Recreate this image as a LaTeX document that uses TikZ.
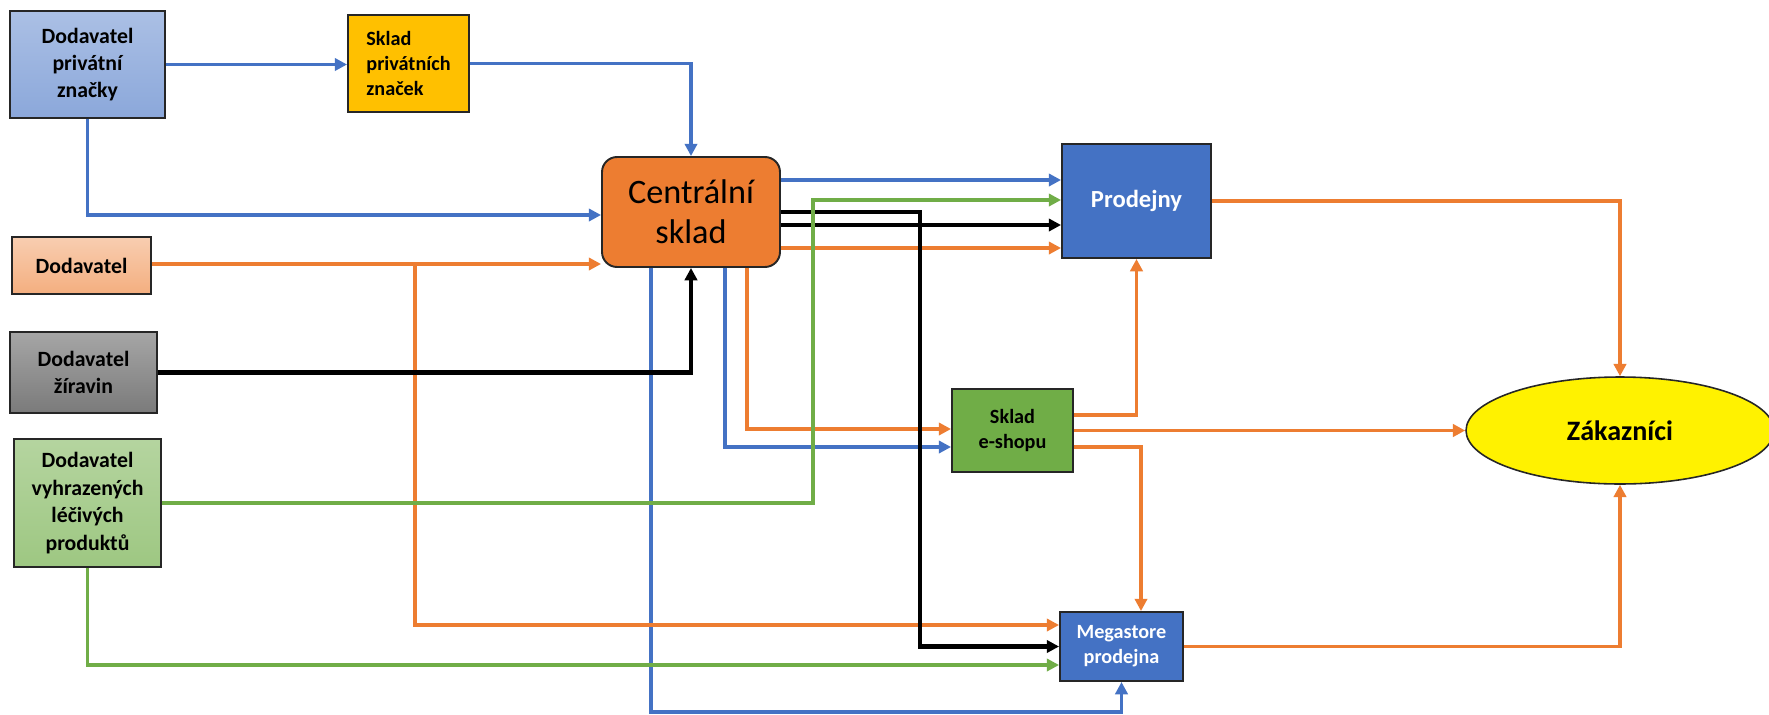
\documentclass[tikz,border=0pt]{standalone}
\usepackage{fontspec}
\setmainfont{Carlito}
\usetikzlibrary{shapes.geometric}
\usetikzlibrary{arrows.meta}
\definecolor{cblue}{HTML}{4472C4}
\definecolor{corange}{HTML}{ED7D31}
\definecolor{cgreen}{HTML}{70AD47}
\definecolor{cgold}{HTML}{FFC000}

\begin{document}
\begin{tikzpicture}[x=0.02cm, y=-0.02cm,
    box/.style={draw=black!85, line width=1.1pt, rectangle, inner sep=0pt, align=center, font=\bfseries\fontsize{12.4}{15.6}\selectfont},
    smallbox/.style={box, font=\bfseries\fontsize{11.5}{14.2}\selectfont},
    flow/.style={line width=2.1pt, -{Triangle[length=7pt,width=7pt]}},
    bflow/.style={flow, draw=cblue},
    oflow/.style={flow, draw=corange},
    gflow/.style={flow, draw=cgreen},
    kflow/.style={flow, draw=black, line width=2.3pt}]
    \useasboundingbox (0,0) rectangle (1769,714);
    \fill[white] (0,0) rectangle (1769,714);

    % suppliers
    \node[box, top color=cblue!45, bottom color=cblue!62, minimum width=3.1cm, minimum height=2.14cm] (dpz) at (87.5,64.5) {Dodavatel\\privátní\\značky};
    \node[smallbox, fill=cgold, align=left, minimum width=2.42cm, minimum height=1.94cm] (spz) at (408.5,63.5) {Sklad\\privátních\\značek};
    \node[box, top color=corange!38, bottom color=corange!62, minimum width=2.78cm, minimum height=1.14cm] (dod) at (81.5,265.5) {Dodavatel};
    \node[box, top color=black!35, bottom color=black!52, minimum width=2.94cm, minimum height=1.62cm] (ziv) at (83.5,372.5) {Dodavatel\\žíravin};
    \node[box, top color=cgreen!52, bottom color=cgreen!68, minimum width=2.94cm, minimum height=2.56cm] (vyh) at (87.5,503) {Dodavatel\\vyhrazených\\léčivých\\produktů};

    \node[draw=black!85, line width=1.1pt, rounded corners=0.3cm, fill=corange, minimum width=3.56cm, minimum height=2.2cm, align=center, font=\fontsize{19.5}{22.8}\selectfont] (cs) at (691,212) {Centrální\\sklad};

    \node[box, fill=cblue, text=white, font=\bfseries\fontsize{14}{17}\selectfont, minimum width=2.98cm, minimum height=2.28cm] (prod) at (1136.5,201) {Prodejny};
    \node[smallbox, fill=cgreen, minimum width=2.42cm, minimum height=1.66cm] (esh) at (1012.5,430.5) {Sklad\\e-shopu};
    \node[smallbox, fill=cblue, text=white, minimum width=2.46cm, minimum height=1.38cm] (meg) at (1121.5,646.5) {Megastore\\prodejna};
    \node[draw=black!85, line width=0.9pt, ellipse, fill=yellow, inner sep=0pt, minimum width=6.16cm, minimum height=2.14cm, font=\bfseries\fontsize{16}{19}\selectfont] (zak) at (1620,430.5) {Zákazníci};

    \draw[bflow] (dpz.east) -- (dpz.east -| spz.west);
    \draw[bflow] (dpz.south) |- (cs.west |- 0,215);
    \draw[bflow] (spz.east) -| (cs.north);
    \draw[bflow] (cs.east |- 0,180) -- (prod.west |- 0,180);
    \draw[bflow] (cs.south -| 651,0) -- (651,712) -| (meg.south);
    \draw[bflow] (cs.south -| 725,0) |- (esh.west |- 0,447);

    \draw[oflow] (dod.east |- 0,264) -- (cs.west |- 0,264);
    \draw[oflow] (415,264) |- (meg.west |- 0,625);
    \draw[oflow] (cs.east |- 0,248) -- (prod.west |- 0,248);
    \draw[oflow] (cs.south -| 747,0) |- (esh.west |- 0,429);
    \draw[oflow] (esh.east |- 0,415) -| (prod.south);
    \draw[oflow] (esh.east) -- (zak.west);
    \draw[oflow] (esh.east |- 0,447) -| (meg.north -| 1141,0);
    \draw[oflow] (prod.east) -| (zak.north);
    \draw[oflow] (meg.east) -| (zak.south);

    \draw[kflow] (ziv.east) -| (cs.south);
    \draw[kflow] (cs.east) -- (920,212) |- (meg.west);
    \draw[kflow] (cs.east |- 0,225) -- (prod.west |- 0,225);

    \draw[gflow] (vyh.east) -| (813,200) -- (prod.west |- 0,200);
    \draw[gflow] (vyh.south) |- (meg.west |- 0,665);
\end{tikzpicture}
\end{document}
